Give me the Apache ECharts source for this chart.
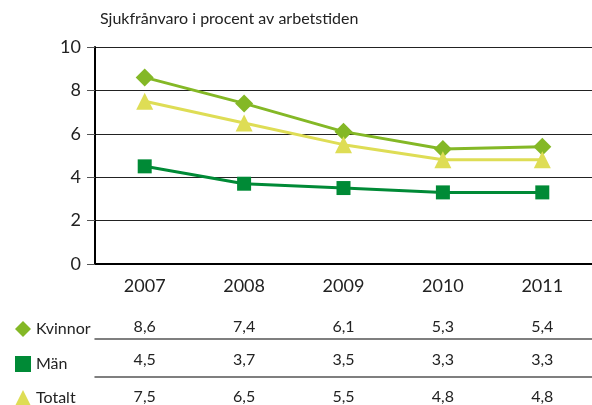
<!DOCTYPE html>
<html>
<head>
<meta charset="utf-8">
<script src="https://cdn.jsdelivr.net/npm/echarts@6/dist/echarts.min.js"></script>
<style>
  html, body { margin: 0; padding: 0; background: #fff; }
  #chart { width: 592px; height: 405px; }
</style>
</head>
<body>
<div id="chart"></div>
<script>
'use strict'
var years = ['2007', '2008', '2009', '2010', '2011']
var kvinnor = [8.6, 7.4, 6.1, 5.3, 5.4]
var man = [4.5, 3.7, 3.5, 3.3, 3.3]
var totalt = [7.5, 6.5, 5.5, 4.8, 4.8]
var seriesNames = ['Kvinnor', 'Män', 'Totalt']
var icons = ['diamond', 'rect', 'triangle']

var FONT = 'Lato'
var TXT = '#222222'
var colors = ['#84b826', '#008a36', '#dedd55']

function fmt(arr) {
  return arr.map(function(v) { return String(v.toFixed(1)).replace('.', ',') })
}

var chart = echarts.init(document.getElementById('chart'))

// table row axis (one per series), labels come from the data arrays
function rowAxis(grid, values, position, margin, showLine) {
  return {
    type: 'category',
    gridIndex: grid,
    position: position,
    data: fmt(values),
    axisLine: { show: showLine, lineStyle: { color: '#555', width: 1.5 } },
    axisTick: { show: false },
    axisLabel: { color: TXT, fontFamily: FONT, fontSize: 16, margin: margin }
  }
}

// one legend per table row so each sits beside its values
var rowTops = [316, 351, 385]
var legends = seriesNames.map(function(name, i) {
  return {
    left: 10,
    top: rowTops[i],
    itemWidth: 16,
    itemHeight: 16,
    itemGap: 8,
    data: [{ name: name, icon: icons[i] }],
    textStyle: { color: TXT, fontFamily: FONT, fontSize: 16 }
  }
})

var option = {
  animation: false,
  title: {
    text: 'Sjukfrånvaro i procent av arbetstiden',
    left: 95,
    top: 6,
    textStyle: { color: TXT, fontFamily: FONT, fontSize: 16, fontWeight: 'normal' }
  },
  legend: legends,
  grid: [
    { left: 95, right: 0, top: 47, height: 217 },
    { left: 95, right: 0, top: 339, height: 0 },
    { left: 95, right: 0, top: 377, height: 0 }
  ],
  xAxis: [
    {
      type: 'category',
      gridIndex: 0,
      data: years,
      axisLine: { lineStyle: { color: '#000', width: 2 } },
      axisTick: { length: 8, lineStyle: { color: '#555' } },
      axisLabel: { color: TXT, fontFamily: FONT, fontSize: 18, margin: 13 }
    },
    rowAxis(1, kvinnor, 'top', 4, true),
    rowAxis(2, man, 'top', 9, true),
    rowAxis(2, totalt, 'bottom', 12, false)
  ],
  yAxis: [
    {
      type: 'value',
      gridIndex: 0,
      min: 0,
      max: 10,
      interval: 2,
      axisLine: { show: true, lineStyle: { color: '#000', width: 2 } },
      axisTick: { show: true, length: 8, lineStyle: { color: '#555' } },
      axisLabel: { color: TXT, fontFamily: FONT, fontSize: 18, margin: 14 },
      splitLine: { lineStyle: { color: '#222', width: 1 } }
    },
    { type: 'value', gridIndex: 1, show: false },
    { type: 'value', gridIndex: 2, show: false }
  ],
  series: [
    {
      name: seriesNames[0], type: 'line', data: kvinnor,
      symbol: icons[0], symbolSize: 18,
      itemStyle: { color: colors[0] },
      lineStyle: { color: colors[0], width: 3 }
    },
    {
      name: seriesNames[1], type: 'line', data: man,
      symbol: icons[1], symbolSize: 14,
      itemStyle: { color: colors[1] },
      lineStyle: { color: colors[1], width: 3 }
    },
    {
      name: seriesNames[2], type: 'line', data: totalt,
      symbol: icons[2], symbolSize: 17,
      itemStyle: { color: colors[2] },
      lineStyle: { color: colors[2], width: 3 }
    }
  ]
}

chart.setOption(option)
</script>
</body>
</html>
